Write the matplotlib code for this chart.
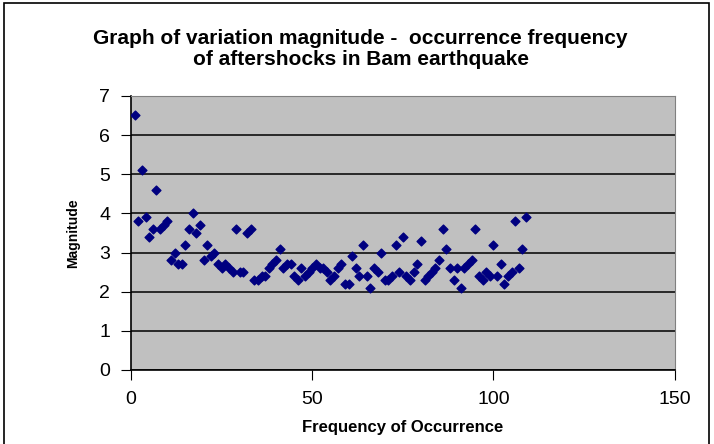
import matplotlib.pyplot as plt
import numpy as np
from matplotlib.patches import Rectangle

plt.rcParams['font.family'] = ['Liberation Sans', 'DejaVu Sans']

# magnitudes of aftershocks, in order of occurrence
magnitude = [6.5, 3.8, 5.1, 3.9, 3.4, 3.6, 4.6, 3.6, 3.7, 3.8,
             2.8, 3.0, 2.7, 2.7, 3.2, 3.6, 4.0, 3.5, 3.7, 2.8,
             3.2, 2.9, 3.0, 2.7, 2.6, 2.7, 2.6, 2.5, 3.6, 2.5,
             2.5, 3.5, 3.6, 2.3, 2.3, 2.4, 2.4, 2.6, 2.7, 2.8,
             3.1, 2.6, 2.7, 2.7, 2.4, 2.3, 2.6, 2.4, 2.5, 2.6,
             2.7, 2.6, 2.6, 2.5, 2.3, 2.4, 2.6, 2.7, 2.2, 2.2,
             2.9, 2.6, 2.4, 3.2, 2.4, 2.1, 2.6, 2.5, 3.0, 2.3,
             2.3, 2.4, 3.2, 2.5, 3.4, 2.4, 2.3, 2.5, 2.7, 3.3,
             2.3, 2.4, 2.5, 2.6, 2.8, 3.6, 3.1, 2.6, 2.3, 2.6,
             2.1, 2.6, 2.7, 2.8, 3.6, 2.4, 2.3, 2.5, 2.4, 3.2,
             2.4, 2.7, 2.2, 2.4, 2.5, 3.8, 2.6, 3.1, 3.9]
freq = np.arange(1, len(magnitude) + 1)

fig = plt.figure(figsize=(7.14, 4.44), dpi=100)
fig.patches.append(Rectangle((0.005, -0.1), 0.988, 1.093, transform=fig.transFigure,
                             fill=False, edgecolor='black', linewidth=1.2))

ax = fig.add_axes([0.1835, 0.1667, 0.7615, 0.6173])
ax.set_facecolor('#c0c0c0')
ax.scatter(freq, magnitude, marker='D', s=20, color='#000080', zorder=3)

ax.set_xlim(0, 150)
ax.set_ylim(0, 7)
ax.set_xticks([0, 50, 100, 150])
ax.set_yticks(range(0, 8))
ax.grid(axis='y', color='black', linewidth=1.1)
ax.set_axisbelow(True)
for s in ['top', 'right']:
    ax.spines[s].set_color('#808080')
ax.spines['left'].set_linewidth(1.2)
ax.spines['bottom'].set_linewidth(1.2)
ax.tick_params(direction='out', length=7, labelsize=14, colors='black', pad=8)

ax.set_xlabel('Frequency of Occurrence', fontsize=12, fontweight='bold', labelpad=9)
ax.set_ylabel('Magnitude', fontsize=10, fontweight='bold', labelpad=14)
fig.text(0.505, 0.889, 'Graph of variation magnitude -  occurrence frequency\nof aftershocks in Bam earthquake',
         ha='center', va='center', fontsize=15, fontweight='bold', linespacing=1.15)

plt.savefig('out.png', dpi=100)
